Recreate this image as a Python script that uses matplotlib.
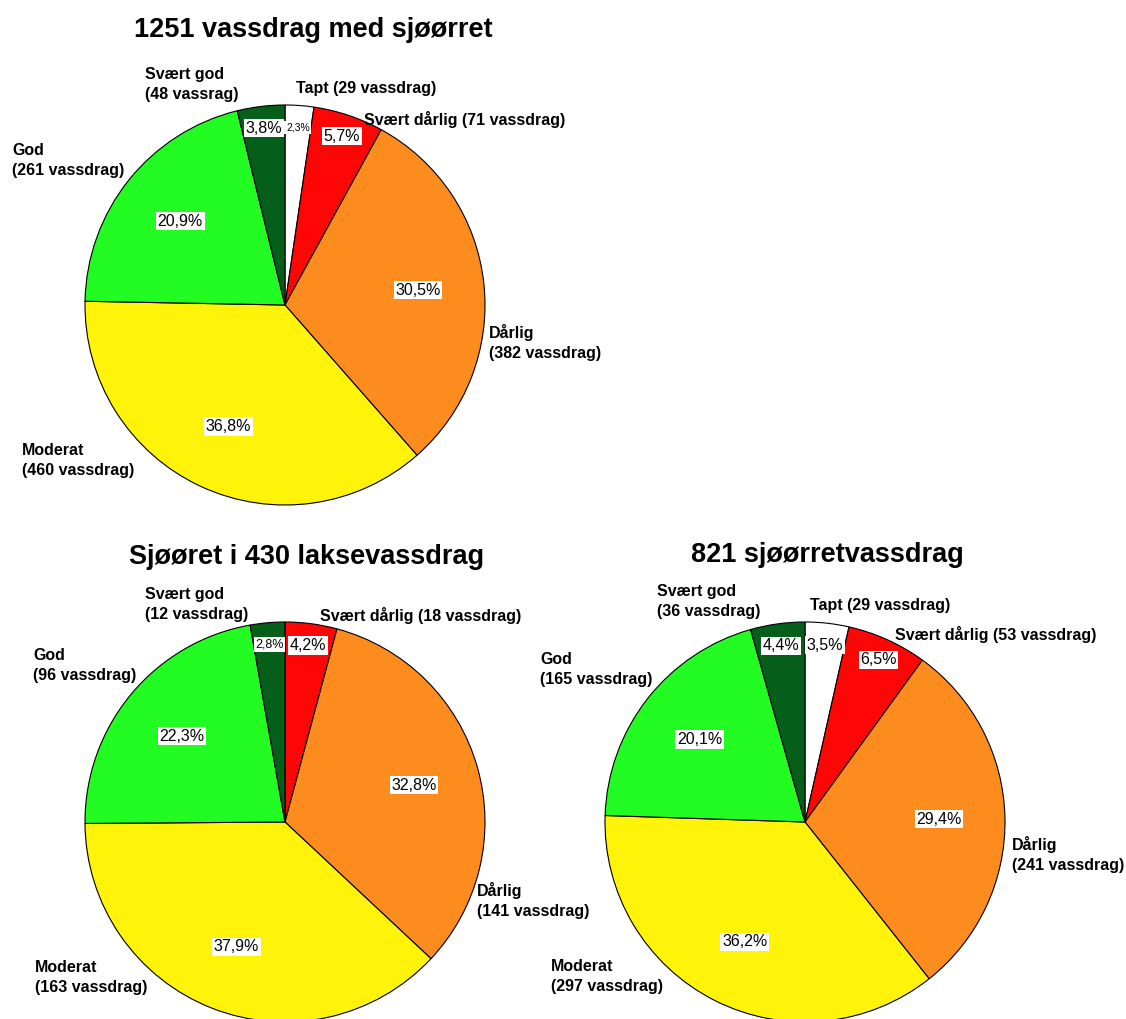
import numpy as np
import matplotlib
matplotlib.use('Agg')
import matplotlib.pyplot as plt

plt.rcParams['font.family'] = ['Liberation Sans', 'DejaVu Sans']

# Data
categories = ['Tapt', 'Svært dårlig', 'Dårlig', 'Moderat', 'God', 'Svært god']
colors = ['#ffffff', '#ff0606', '#fd8c1e', '#fff30a', '#22fc22', '#055f1a']

titles = ['1251 vassdrag med sjøørret', 'Sjøøret i 430 laksevassdrag', '821 sjøørretvassdrag']
values_all = [29, 71, 382, 460, 261, 48]
values_laks = [0, 18, 141, 163, 96, 12]
values_sjo = [29, 53, 241, 297, 165, 36]
labels_all = ['Tapt (29 vassdrag)', 'Svært dårlig (71 vassdrag)', 'Dårlig\n(382 vassdrag)',
              'Moderat\n(460 vassdrag)', 'God\n(261 vassdrag)', 'Svært god\n(48 vassrag)']
labels_laks = ['', 'Svært dårlig (18 vassdrag)', 'Dårlig\n(141 vassdrag)',
               'Moderat\n(163 vassdrag)', 'God\n(96 vassdrag)', 'Svært god\n(12 vassdrag)']
labels_sjo = ['Tapt (29 vassdrag)', 'Svært dårlig (53 vassdrag)', 'Dårlig\n(241 vassdrag)',
              'Moderat\n(297 vassdrag)', 'God\n(165 vassdrag)', 'Svært god\n(36 vassdrag)']

# Layout (pixels, origin top-left)
W, H = 1126, 1019
centers = [(285, 305), (285, 822), (805, 822)]
radius = 200
title_pos = [(313, 30), (307, 557), (827, 555)]
# left x, top y of each category label
label_pos = [
    [(296, 81), (364, 111), (489, 324), (22, 443), (12, 143), (145, 67)],
    [None, (320, 607), (477, 882), (35, 960), (33, 648), (145, 587)],
    [(810, 598), (895, 626), (1012, 836), (551, 959), (540, 652), (657, 584)],
]

fig = plt.figure(figsize=(W / 100, H / 100), dpi=100)
ax = fig.add_axes([0, 0, 1, 1])

datasets = [(values_all, labels_all), (values_laks, labels_laks), (values_sjo, labels_sjo)]

for i, (vals, labs) in enumerate(datasets):
    cx, cy = centers[i]
    keep = [j for j, v in enumerate(vals) if v > 0]
    v = [vals[j] for j in keep]
    c = [colors[j] for j in keep]
    wedges, _ = ax.pie(v, colors=c, startangle=90, counterclock=False,
                       center=(cx, H - cy), radius=radius, frame=True,
                       wedgeprops=dict(edgecolor='black', linewidth=0.8))
    total = sum(v)
    for w, val in zip(wedges, v):
        frac = val / total
        ang = np.deg2rad((w.theta1 + w.theta2) / 2)
        d = 0.89 if frac < 0.08 else 0.67
        x = cx + d * radius * np.cos(ang)
        y = H - cy + d * radius * np.sin(ang)
        fs = 7.5 if frac < 0.025 else (9 if frac < 0.03 else 11.5)
        txt = f'{frac * 100:.1f}%'.replace('.', ',')
        ax.text(x, y, txt, ha='center', va='center', fontsize=fs,
                bbox=dict(facecolor='white', edgecolor='none', pad=1.2))
    for j, lab in enumerate(labs):
        if label_pos[i][j] is None or not lab:
            continue
        lx, ly = label_pos[i][j]
        ax.text(lx, H - ly, lab, ha='left', va='top', fontsize=11.5,
                fontweight='bold', linespacing=1.4)
    tx, ty = title_pos[i]
    ax.text(tx, H - ty, titles[i], ha='center', va='center', fontsize=19.5,
            fontweight='bold')

ax.set_xlim(0, W)
ax.set_ylim(0, H)
ax.set_aspect('auto')
ax.axis('off')

fig.savefig('out.png', dpi=100, facecolor='white')
